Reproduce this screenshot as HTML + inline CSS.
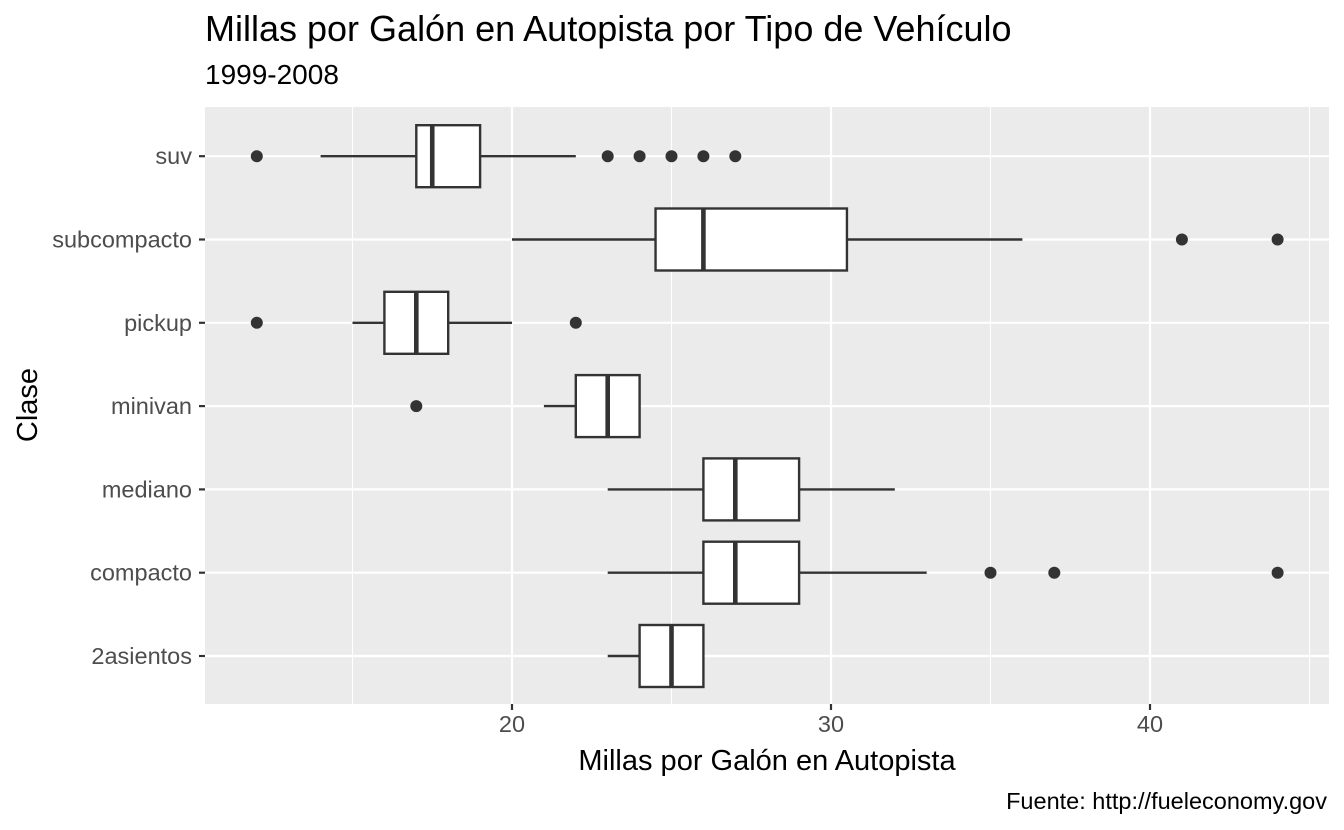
<!DOCTYPE html>
<html><head><meta charset="utf-8"><style>
body{margin:0;background:#fff;}
svg{display:block;font-family:"Liberation Sans",Arial,sans-serif;}
</style></head><body>
<svg id="chart" width="1344" height="830" xmlns="http://www.w3.org/2000/svg">
<rect width="1344" height="830" fill="#fff"/>
<text x="205" y="41" font-size="36" fill="#000">Millas por Galón en Autopista por Tipo de Vehículo</text>
<text x="205" y="84" font-size="28" fill="#000">1999-2008</text>
<rect x="205" y="107" width="1124" height="597" fill="#ebebeb"/>
<g id="grid"></g>
<g id="boxes"></g>
<g id="axes"></g>
<text x="767" y="770" font-size="29" text-anchor="middle" fill="#000">Millas por Galón en Autopista</text>
<text transform="translate(37,405) rotate(-90)" font-size="29" text-anchor="middle" fill="#000">Clase</text>
<text x="1327" y="809" font-size="23.5" text-anchor="end" fill="#000">Fuente: http://fueleconomy.gov</text>
</svg>
<script>
const categories=["2asientos","compacto","mediano","minivan","pickup","subcompacto","suv"];
const q1=[24,26,26,22,16,24.5,17];
const med=[25,27,27,23,17,26,17.5];
const q3=[26,29,29,24,18,30.5,19];
const wlo=[23,23,23,21,15,20,14];
const whi=[26,33,32,24,20,36,22];
const outliers=[[],[35,37,44],[],[17],[12,22],[41,44],[12,23,24,25,26,27]];
const xTicks=[20,30,40];
const xMinor=[15,25,35,45];
const NS="http://www.w3.org/2000/svg";
const px0=205,px1=1329,py0=107,py1=704;
function X(v){return 512+(v-20)*31.9;}
function Y(i){return 656-i*83.3;}
function mk(tag,attrs,parent){const e=document.createElementNS(NS,tag);for(const k in attrs)e.setAttribute(k,attrs[k]);parent.appendChild(e);return e;}
const grid=document.getElementById('grid'),boxes=document.getElementById('boxes'),axes=document.getElementById('axes');
xMinor.forEach(v=>{const l=mk('line',{x1:X(v),x2:X(v),y1:py0,y2:py1,stroke:'#fff','stroke-width':1.1},grid);

});
xTicks.forEach(v=>{const l=mk('line',{x1:X(v),x2:X(v),y1:py0,y2:py1,stroke:'#fff','stroke-width':2.2},grid);


const t=mk('line',{x1:X(v),x2:X(v),y1:py1,y2:py1+6,stroke:'#333','stroke-width':2.2},axes);


const tx=mk('text',{x:X(v),y:732,'font-size':23.5,'text-anchor':'middle',fill:'#4d4d4d'},axes);tx.textContent=v;

});
categories.forEach((c,i)=>{const y=Y(i);
const g=mk('line',{x1:px0,x2:px1,y1:y,y2:y,stroke:'#fff','stroke-width':2.2},grid);


const t=mk('line',{x1:px0-6,x2:px0,y1:y,y2:y,stroke:'#333','stroke-width':2.2},axes);


const tx=mk('text',{x:px0-13,y:y+8,'font-size':23.5,'text-anchor':'end',fill:'#4d4d4d'},axes);tx.textContent=c;


const grp=mk('g',{},boxes);


mk('line',{x1:X(wlo[i]),x2:X(q1[i]),y1:y,y2:y,stroke:'#333','stroke-width':2.4},grp);
mk('line',{x1:X(q3[i]),x2:X(whi[i]),y1:y,y2:y,stroke:'#333','stroke-width':2.4},grp);
mk('rect',{x:X(q1[i]),y:y-31,width:X(q3[i])-X(q1[i]),height:62,fill:'#fff',stroke:'#333','stroke-width':2.4},grp);
mk('line',{x1:X(med[i]),x2:X(med[i]),y1:y-31,y2:y+31,stroke:'#333','stroke-width':4.6},grp);
outliers[i].forEach(o=>{const p=mk('circle',{cx:X(o),cy:y,r:6,fill:'#333'},grp);

});
});
</script>
</body></html>
